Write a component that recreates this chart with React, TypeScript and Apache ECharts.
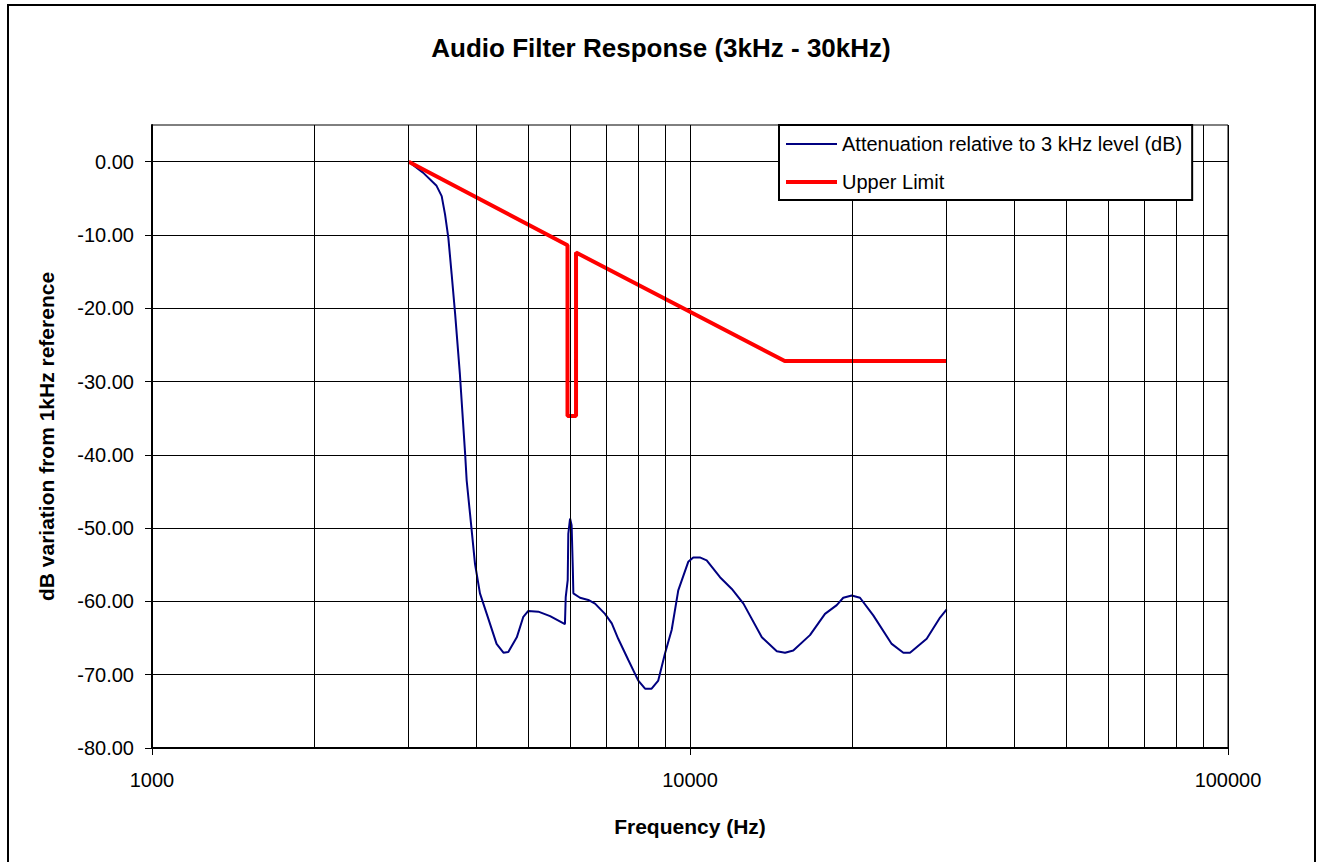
import React, { useEffect, useRef } from "react";
import * as echarts from "echarts";

const FONT = "'Liberation Sans', Arial, sans-serif";

const titleText = "Audio Filter Response (3kHz - 30kHz)";
const xAxisName = "Frequency (Hz)";
const yAxisName = "dB variation from 1kHz reference";
const blueName = "Attenuation relative to 3 kHz level (dB)";
const redName = "Upper Limit";

// Measured response (Hz, dB)
const freqBlue = [
  3000, 3190, 3380, 3455, 3505, 3555, 3605, 3660, 3735, 3820, 3845, 3900, 3985, 4070, 4190,
  4370, 4500, 4595, 4765, 4900, 5005, 5225, 5495, 5855, 5875, 5925, 5940, 5985, 6025, 6055,
  6070, 6245, 6470, 6660, 6950, 7155, 7355, 7680, 8015, 8250, 8485, 8730, 8985, 9245, 9510,
  9925, 10140, 10430, 10740, 11370, 11960, 12570, 13600, 14500, 15020, 15560, 16710, 17820,
  18740, 19270, 19980, 20700, 21910, 23710, 24920, 25640, 27540, 29160, 30000,
];
const dbBlue = [
  0, -1.5, -3.3, -4.7, -7.2, -10.4, -15.3, -20.8, -29.0, -39.9, -43.5, -48.0, -54.9, -58.9, -61.7,
  -65.8, -67.0, -66.9, -64.9, -62.1, -61.3, -61.4, -62.0, -63.1, -59.4, -57.1, -50.8, -48.7, -49.6, -55.3,
  -58.9, -59.5, -59.8, -60.3, -61.7, -63.0, -65.1, -68.0, -70.8, -71.9, -71.9, -70.8, -67.1, -63.9, -58.5,
  -54.6, -54.0, -54.0, -54.4, -56.7, -58.3, -60.3, -64.9, -66.8, -67.0, -66.7, -64.6, -61.7,
  -60.5, -59.5, -59.2, -59.5, -61.9, -65.8, -67.0, -67.0, -65.1, -62.2, -61.1,
];

// Upper limit mask (Hz, dB)
const freqLimit = [3000, 5920, 5920, 6140, 6140, 15000, 30000];
const dbLimit = [0, -11.4, -34.7, -34.7, -12.4, -27.2, -27.2];

// Minor vertical grid frequencies
const minorGridFreqs = [
  2000, 3000, 4000, 5000, 6000, 7000, 8000, 9000,
  20000, 30000, 40000, 50000, 60000, 70000, 80000, 90000,
];
const yTicks = [-80, -70, -60, -50, -40, -30, -20, -10, 0];

export default function App() {
  const ref = useRef<HTMLDivElement>(null);

  useEffect(() => {
    document.body.style.margin = "0";
    const chart = echarts.init(ref.current!, null, { renderer: "svg" });
    const option: any = {
      animation: false,
      backgroundColor: "#fff",
      title: {
        text: titleText,
        left: "center",
        top: 35,
        padding: 0,
        textStyle: { fontSize: 26, fontWeight: "bold", color: "#000", fontFamily: FONT },
      },
      legend: {
        left: 779,
        top: 125,
        orient: "vertical",
        backgroundColor: "#fff",
        borderColor: "#000",
        borderWidth: 2,
        padding: [9, 10, 8, 7],
        itemGap: 18,
        itemWidth: 51,
        itemHeight: 20,
        selectedMode: false,
        itemStyle: { borderWidth: 0 },
        textStyle: { fontSize: 20, color: "#000", fontFamily: FONT },
        data: [
          { name: blueName, icon: "path://M0,0H51V2H0Z", itemStyle: { color: "#000080", borderWidth: 0 } },
          { name: redName, icon: "path://M0,0H51V4H0Z", itemStyle: { color: "#ff0000", borderWidth: 0 } },
        ],
        z: 10,
      },
      grid: {
        left: 152,
        right: 94,
        top: 125,
        bottom: 114,
        show: true,
        borderColor: "#000",
        borderWidth: 1,
        backgroundColor: "transparent",
      },
      xAxis: {
        type: "log",
        logBase: 10,
        min: 1000,
        max: 100000,
        name: xAxisName,
        nameLocation: "middle",
        nameGap: 68,
        nameTextStyle: { fontSize: 21, fontWeight: "bold", color: "#000", fontFamily: FONT },
        axisLine: { show: true, onZero: false, lineStyle: { color: "#000", width: 2 } },
        axisTick: { show: true, length: 7, lineStyle: { color: "#000", width: 1 } },
        axisLabel: {
          margin: 22,
          fontSize: 20,
          color: "#000",
          fontFamily: FONT,
          formatter: (v: number) => String(Math.round(v)),
        },
        splitLine: { show: true, lineStyle: { color: "#000", width: 1 } },
      },
      yAxis: {
        type: "value",
        min: -80,
        max: 5,
        interval: 10,
        name: yAxisName,
        nameLocation: "middle",
        nameGap: 95,
        nameTextStyle: { fontSize: 21, fontWeight: "bold", color: "#000", fontFamily: FONT },
        axisLine: { show: true, onZero: false, lineStyle: { color: "#000", width: 2 } },
        axisTick: { show: true, length: 7, customValues: yTicks, lineStyle: { color: "#000", width: 1 } },
        axisLabel: {
          margin: 18,
          fontSize: 20,
          color: "#000",
          fontFamily: FONT,
          customValues: yTicks,
          formatter: (v: number) => v.toFixed(2),
        },
        splitLine: { show: true, lineStyle: { color: "#000", width: 1 } },
      },
      graphic: [
        {
          type: "rect",
          silent: true,
          shape: { x: 8, y: 5, width: 1307, height: 900 },
          style: { fill: "none", stroke: "#000", lineWidth: 2 },
        },
      ],
      series: [
        {
          name: "grid",
          type: "line",
          data: [],
          silent: true,
          z: 1,
          markLine: {
            silent: true,
            symbol: "none",
            label: { show: false },
            lineStyle: { color: "#000", width: 1, type: "solid" },
            emphasis: { disabled: true },
            data: minorGridFreqs.map((f) => ({ xAxis: f })),
          },
        },
        {
          name: blueName,
          type: "line",
          z: 3,
          symbol: "none",
          lineStyle: { color: "#000080", width: 2 },
          itemStyle: { color: "#000080" },
          data: freqBlue.map((f, i) => [f, dbBlue[i]]),
        },
        {
          name: redName,
          type: "line",
          z: 4,
          symbol: "none",
          lineStyle: { color: "#ff0000", width: 4 },
          itemStyle: { color: "#ff0000" },
          data: freqLimit.map((f, i) => [f, dbLimit[i]]),
        },
      ],
    };
    chart.setOption(option);
    return () => chart.dispose();
  }, []);

  return (
    <div
      ref={ref}
      style={{ position: "fixed", left: 0, top: 0, width: 1322, height: 862 }}
    />
  );
}
